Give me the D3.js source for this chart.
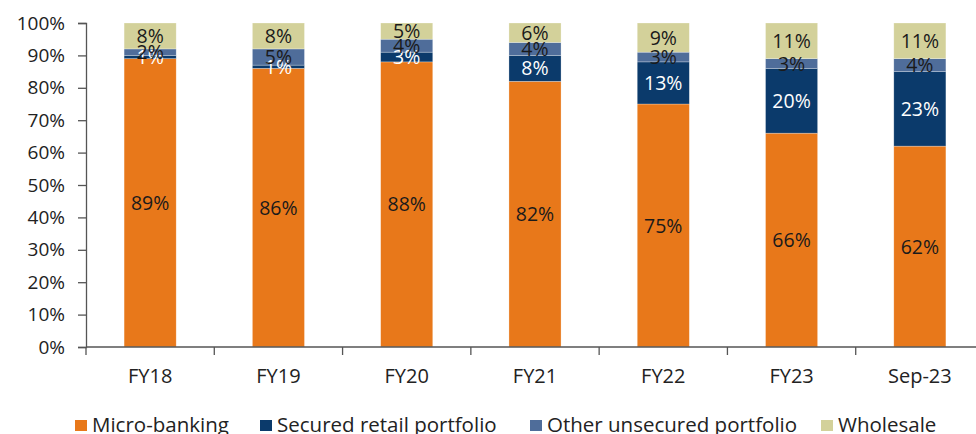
<!DOCTYPE html>
<html>
<head>
<meta charset="utf-8">
<script src="https://cdn.jsdelivr.net/npm/d3@7"></script>
<style>
  body { margin: 0; background: #fff; }
  svg { display: block; }
  text { font-family: "Open Sans", "Lato", sans-serif; }
</style>
</head>
<body>
<svg id="chart" width="976" height="434"></svg>
<script>
// Loan book mix by segment (% of total)
const categories = ["FY18", "FY19", "FY20", "FY21", "FY22", "FY23", "Sep-23"];
const microBanking = [89, 86, 88, 82, 75, 66, 62];
const securedRetail = [1, 1, 3, 8, 13, 20, 23];
const otherUnsecured = [2, 5, 4, 4, 3, 3, 4];
const wholesale = [8, 8, 5, 6, 9, 11, 11];
const yTicks = [0, 10, 20, 30, 40, 50, 60, 70, 80, 90, 100];

const seriesDefs = [
  { name: "Micro-banking", values: microBanking, color: "#E8781A", label: "#1a1a1a" },
  { name: "Secured retail portfolio", values: securedRetail, color: "#0B3A6B", label: "#ffffff" },
  { name: "Other unsecured portfolio", values: otherUnsecured, color: "#4F6D9A", label: "#1a1a1a" },
  { name: "Wholesale", values: wholesale, color: "#D3D19A", label: "#1a1a1a" }
];

const svg = d3.select("#chart");
const plotLeft = 86, plotRight = 984, plotTop = 23, plotBottom = 347;

const rows = categories.map((c, i) => {
  const r = { cat: c };
  seriesDefs.forEach(s => r[s.name] = s.values[i]);
  return r;
});
const stack = d3.stack().keys(seriesDefs.map(s => s.name))(rows);

const x = d3.scaleBand().domain(categories).range([plotLeft, plotRight]).paddingInner(0.594).paddingOuter(0.297);
const y = d3.scaleLinear().domain([0, 100]).range([plotBottom, plotTop]);

// Bars
stack.forEach((layer, li) => {
  const s = seriesDefs[li];
  const g = svg.append("g");
  g.selectAll("rect").data(layer).join("rect")
    .attr("x", d => x(d.data.cat))
    .attr("width", x.bandwidth())
    .attr("y", d => y(d[1]))
    .attr("height", d => y(d[0]) - y(d[1]))
    .attr("fill", s.color)
    .attr("stroke", "rgba(255,255,255,0.45)")
    .attr("stroke-width", 0.6);
});

// Segment value labels, drawn after all bars so none is hidden
stack.forEach((layer, li) => {
  const s = seriesDefs[li];
  svg.append("g").selectAll("text").data(layer).join("text")
    .attr("x", d => x(d.data.cat) + x.bandwidth() / 2)
    .attr("y", d => (y(d[0]) + y(d[1])) / 2)
    .attr("dy", "0.36em")
    .attr("text-anchor", "middle")
    .attr("font-size", 19.5)
    .attr("font-family", "'DejaVu Sans', sans-serif")
    .attr("fill", s.label)
    .text(d => (d[1] - d[0]) + "%");
});

// Y axis
const yAxis = svg.append("g").attr("transform", `translate(${plotLeft},0)`)
  .call(d3.axisLeft(y).tickValues(yTicks).tickSize(8).tickPadding(13).tickFormat(d => d + "%"));
yAxis.select(".domain").attr("stroke", "#555").attr("stroke-width", 1.3);
yAxis.selectAll(".tick line").attr("stroke", "#555").attr("stroke-width", 1.3);
yAxis.selectAll(".tick text").attr("font-size", 19).attr("fill", "#222")
  .attr("font-family", "'Open Sans', sans-serif");

// X axis: ticks at band boundaries
const xAxisG = svg.append("g").attr("transform", `translate(0,${plotBottom})`);
xAxisG.append("line").attr("x1", plotLeft).attr("x2", plotRight).attr("stroke", "#555").attr("stroke-width", 1.3);
const step = x.step();
const boundaries = d3.range(categories.length + 1).map(i => plotLeft + i * step);
xAxisG.selectAll("line.tk").data(boundaries).join("line").attr("class", "tk")
  .attr("x1", d => d).attr("x2", d => d).attr("y1", 0).attr("y2", 8)
  .attr("stroke", "#555").attr("stroke-width", 1.3);
xAxisG.selectAll("text").data(categories).join("text")
  .attr("x", d => x(d) + x.bandwidth() / 2)
  .attr("y", 36)
  .attr("text-anchor", "middle")
  .attr("font-size", 20)
  .attr("fill", "#222")
  .text(d => d);

// Legend
const legendX = [75, 260, 530, 821];
const legend = svg.append("g");
seriesDefs.forEach((s, i) => {
  legend.append("rect").attr("x", legendX[i]).attr("y", 420).attr("width", 12).attr("height", 11).attr("fill", s.color);
  legend.append("text").attr("x", legendX[i] + 17).attr("y", 432)
    .attr("font-size", 20.5).attr("fill", "#222").text(s.name);
});
</script>
</body>
</html>
